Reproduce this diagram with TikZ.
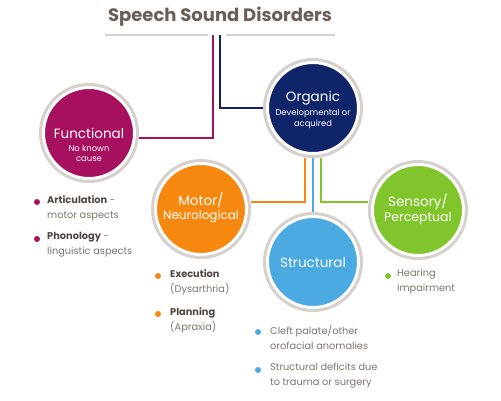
\documentclass[tikz,border=0pt]{standalone}
\usepackage{fontspec}
\setmainfont{Poppins}
\usetikzlibrary{backgrounds}
\definecolor{cmag}{HTML}{A6105F}
\definecolor{cnavy}{HTML}{10246A}
\definecolor{corange}{HTML}{F7880F}
\definecolor{cblue}{HTML}{4BAAE2}
\definecolor{cgreen}{HTML}{80C52B}
\definecolor{cring}{HTML}{D6D1CC}
\definecolor{ctitle}{HTML}{6A5E57}
\definecolor{cdark}{HTML}{4F4542}
\definecolor{clight}{HTML}{7D736E}
\tikzset{
  bigc/.style={circle, fill=#1, draw=white, line width=6pt, minimum size=94pt, inner sep=0pt},
  ring/.style={draw=cring, line width=3pt},
  conn/.style={line width=2pt, #1},
  ctext/.style={text=white, inner sep=0pt, font=\fontsize{13.5}{14}\selectfont},
  csub/.style={text=white, inner sep=0pt, font=\fontsize{8.4}{9}\selectfont},
  item/.style={anchor=north west, align=left, inner sep=0pt, text=clight, font=\fontsize{9.8}{15}\selectfont},
}
\begin{document}
\begin{tikzpicture}[x=1pt,y=-1pt]
\useasboundingbox (0,0) rectangle (501,400);
\node[text=ctitle, font=\fontsize{18}{20}\selectfont\bfseries] (title) at (220,17) {Speech Sound Disorders};
\draw[cring, line width=2.5pt] (105,35) -- (208,35);
\draw[cring, line width=2.5pt] (226,35) -- (335,35);
\coordinate (tm) at (213,35);
\coordinate (tn) at (220,35);

\node[bigc=cmag] (func) at (89,133) {};
\node[bigc=cnavy] (org) at (313,108) {};
\node[bigc=corange] (mot) at (201,209) {};
\node[bigc=cblue] (str) at (313,262) {};
\node[bigc=cgreen] (sen) at (418,210) {};
\foreach \n in {func,org,mot,str,sen} \draw[ring] (\n) circle[radius=48.5];

\node[ctext] (funct) at (89,133) {Functional};
\node[csub] (funcs1) at (89,148) {No known};
\node[csub] (funcs2) at (89,159) {cause};
\node[ctext] (orgt) at (313,98) {Organic};
\node[csub] (orgs1) at (313,113.5) {Developmental or};
\node[csub] (orgs2) at (313,124) {acquired};
\node[ctext] (mott1) at (201,200) {Motor/};
\node[ctext, font=\fontsize{12}{14}\selectfont] (mott2) at (201,217) {Neurological};
\node[ctext] (strt) at (313,263) {Structural};
\node[ctext] (sent1) at (418,202) {Sensory/};
\node[ctext, font=\fontsize{12.5}{14}\selectfont] (sent2) at (418,218) {Perceptual};

\begin{scope}[on background layer]
\draw[conn=cmag, shorten >=-1pt] (tm) |- ([yshift=-5]func.east);
\draw[conn=cnavy] (tn) |- (org);
\draw[conn=corange] ([xshift=-8]org.south) |- ([yshift=7]mot.east);
\draw[conn=cblue] (org) -- (str);
\draw[conn=cgreen] ([xshift=8]org.south) |- ([yshift=8]sen.west);
\end{scope}

% Functional list
\node[item] (f1) at (47,195) {\textcolor{cdark}{\bfseries Articulation} -\\motor aspects};
\node[item] (f2) at (47,232) {\textcolor{cdark}{\bfseries Phonology} -\\linguistic aspects};
\fill[cmag] (37,202) circle[radius=3];
\fill[cmag] (37,239) circle[radius=3];
% Motor list
\node[item] (m1) at (170,269) {\textcolor{cdark}{\bfseries Execution}\\(Dysarthria)};
\node[item] (m2) at (170,307) {\textcolor{cdark}{\bfseries Planning}\\(Apraxia)};
\fill[corange] (158,276) circle[radius=3];
\fill[corange] (158,314) circle[radius=3];
% Structural list
\node[item] (s1) at (270,325) {Cleft palate/other\\orofacial anomalies};
\node[item] (s2) at (270,363) {Structural deficits due\\to trauma or surgery};
\fill[cblue] (258,332) circle[radius=3];
\fill[cblue] (258,370) circle[radius=3];
% Sensory list
\node[item] (p1) at (397,269) {Hearing\\impairment};
\fill[cgreen] (388,276) circle[radius=3];
\end{tikzpicture}
\end{document}
